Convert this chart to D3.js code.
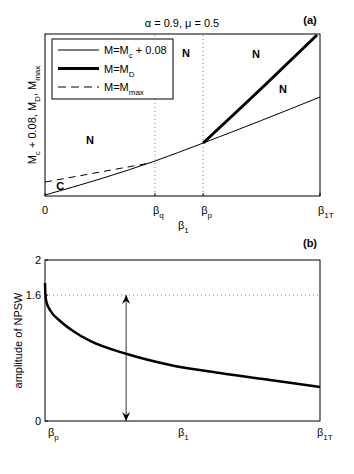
<!DOCTYPE html>
<html>
<head>
<meta charset="utf-8">
<script src="https://cdn.jsdelivr.net/npm/d3@7"></script>
<style>
  body { margin: 0; background: #fff; }
  text { font-family: "Liberation Sans", Arial, sans-serif; font-size: 11px; fill: #000; }
</style>
</head>
<body>
<div id="chart"></div>
<script>
// panel (a) -- beta_1 normalised so beta_1T = 1, M in arbitrary units
const betaQ = 0.4, betaP = 0.575, beta1T = 1;
const topTicks = [0, betaQ, betaP, beta1T];
const topTickLabels = [["0", ""], ["β", "q"], ["β", "p"], ["β", "1T"]];

const mcX = [0, 0.2, 0.4, 0.575, 0.782, 1];
const mcY = [0.006, 0.105, 0.216, 0.327, 0.463, 0.611];
const mdX = [0.575, 0.8, 0.989];
const mdY = [0.327, 0.685, 0.994];
const mmaxX = [0, 0.382];
const mmaxY = [0.086, 0.204];

const regionLabels = ["N", "N", "N", "N", "C"];
const regionX = [0.164, 0.513, 0.767, 0.865, 0.055];
const regionY = [0.346, 0.883, 0.877, 0.660, 0.062];

const legendLabels = [["M=M", "c", " + 0.08"], ["M=M", "D", ""], ["M=M", "max", ""]];

// panel (b) -- amplitude of NPSW, beta_1 from beta_p (0) to beta_1T (1)
const npswX = [0, 0.001, 0.003, 0.008, 0.018, 0.055, 0.102, 0.164, 0.298, 0.455, 0.636, 0.818, 1];
const npswY = [1.714, 1.6, 1.52, 1.45, 1.379, 1.242, 1.118, 0.994, 0.832, 0.696, 0.596, 0.509, 0.422];
const npswLevel = 1.565;
const arrowX = 0.295;
const bottomYTicks = [0, npswLevel, 2];
const bottomYTickLabels = ["0", "1.6", "2"];
const bottomXTicks = [0, 1];
const bottomXTickLabels = [["β", "p"], ["β", "1T"]];

const W = 354, H = 474;
const svg = d3.select("#chart").append("svg").attr("width", W).attr("height", H);

const defs = svg.append("defs");
defs.append("marker")
  .attr("id", "head")
  .attr("viewBox", "0 0 10 10")
  .attr("refX", 10).attr("refY", 5)
  .attr("markerWidth", 9).attr("markerHeight", 9)
  .attr("markerUnits", "userSpaceOnUse")
  .attr("orient", "auto-start-reverse")
  .append("path")
  .attr("d", "M0,0.5 L10,5 L0,9.5 L3.5,5 Z")
  .attr("fill", "#000");

// subscript text helper
const richText = (sel, parts) => {
  sel.append("tspan").text(parts[0]);
  if (parts[1]) sel.append("tspan").attr("dy", 4).style("font-size", "8px").text(parts[1]);
  if (parts[2]) sel.append("tspan").attr("dy", -4).text(parts[2]);
};

// ---------- panel (a) ----------
const xa = d3.scaleLinear().domain([0, 1]).range([45, 320]);
const ya = d3.scaleLinear().domain([0, 1]).range([196, 34]);
const ga = svg.append("g");

ga.selectAll("line.vdot")
  .data([betaQ, betaP])
  .enter().append("line")
  .attr("x1", d => xa(d)).attr("x2", d => xa(d))
  .attr("y1", ya(0)).attr("y2", ya(1))
  .attr("stroke", "#888").attr("stroke-width", 1)
  .attr("stroke-dasharray", "1,3");

const lineA = (xs, ys) =>
  d3.line().x(d => xa(d[0])).y(d => ya(d[1])).curve(d3.curveMonotoneX)(xs.map((x, i) => [x, ys[i]]));

ga.append("path").attr("d", lineA(mcX, mcY))
  .attr("fill", "none").attr("stroke", "#000").attr("stroke-width", 1);
ga.append("path").attr("d", lineA(mmaxX, mmaxY))
  .attr("fill", "none").attr("stroke", "#000").attr("stroke-width", 1)
  .attr("stroke-dasharray", "7,5");
ga.append("path").attr("d", lineA(mdX, mdY))
  .attr("fill", "none").attr("stroke", "#000").attr("stroke-width", 3);

ga.selectAll("text.region")
  .data(regionLabels)
  .enter().append("text")
  .attr("class", "region")
  .attr("x", (d, i) => xa(regionX[i]))
  .attr("y", (d, i) => ya(regionY[i]))
  .attr("text-anchor", "middle")
  .attr("dominant-baseline", "central")
  .style("font-weight", "bold")
  .text(d => d);

// box and ticks
ga.append("rect")
  .attr("x", xa(0)).attr("y", ya(1))
  .attr("width", xa(1) - xa(0)).attr("height", ya(0) - ya(1))
  .attr("fill", "none").attr("stroke", "#000").attr("stroke-width", 1);

ga.selectAll("line.tick")
  .data(topTicks)
  .enter().append("line")
  .attr("x1", d => xa(d)).attr("x2", d => xa(d))
  .attr("y1", ya(0)).attr("y2", ya(0) - 3)
  .attr("stroke", "#000");

ga.selectAll("text.xtick")
  .data(topTicks)
  .enter().append("text")
  .attr("x", d => xa(d))
  .attr("y", 214)
  .attr("text-anchor", (d, i) => i == 0 ? "middle" : "start")
  .attr("dx", (d, i) => i == 0 ? 0 : -2)
  .each(function (d, i) { richText(d3.select(this), topTickLabels[i]); });

richText(ga.append("text").attr("x", 178).attr("y", 229), ["β", "1", ""]);

ga.append("text")
  .attr("transform", "translate(36," + (ya(0.5)) + ") rotate(-90)")
  .attr("text-anchor", "middle")
  .call(t => {
    richText(t, ["M", "c", " + 0.08, M"]);
    t.append("tspan").attr("dy", 4).style("font-size", "8px").text("D");
    t.append("tspan").attr("dy", -4).text(", M");
    t.append("tspan").attr("dy", 4).style("font-size", "8px").text("max");
  });

ga.append("text").attr("x", 182).attr("y", 27).attr("text-anchor", "middle")
  .text("α = 0.9, μ = 0.5");
ga.append("text").attr("x", 310).attr("y", 24).attr("text-anchor", "middle")
  .style("font-weight", "bold").text("(a)");

// legend
const leg = ga.append("g");
leg.append("rect")
  .attr("x", 52).attr("y", 39).attr("width", 121).attr("height", 60)
  .attr("fill", "#fff").attr("stroke", "#000").attr("stroke-width", 1);
const legStyles = [[1, null], [3, null], [1, "8,5"]];
legendLabels.forEach((lab, i) => {
  const yy = 50 + i * 18.5;
  leg.append("line")
    .attr("x1", 58).attr("x2", 99).attr("y1", yy).attr("y2", yy)
    .attr("stroke", "#000").attr("stroke-width", legStyles[i][0])
    .attr("stroke-dasharray", legStyles[i][1]);
  richText(leg.append("text").attr("x", 104).attr("y", yy + 4), lab);
});

// ---------- panel (b) ----------
const xb = d3.scaleLinear().domain([0, 1]).range([45, 320]);
const yb = d3.scaleLinear().domain([0, 2]).range([421, 260]);
const gb = svg.append("g");

gb.append("line")
  .attr("x1", xb(0)).attr("x2", xb(1))
  .attr("y1", yb(npswLevel)).attr("y2", yb(npswLevel))
  .attr("stroke", "#888").attr("stroke-dasharray", "1,3");

gb.append("line")
  .attr("x1", xb(arrowX)).attr("x2", xb(arrowX))
  .attr("y1", yb(0)).attr("y2", yb(npswLevel))
  .attr("stroke", "#333").attr("stroke-width", 1)
  .attr("marker-start", "url(#head)")
  .attr("marker-end", "url(#head)");

gb.append("path")
  .attr("d", d3.line().x(d => xb(d[0])).y(d => yb(d[1])).curve(d3.curveMonotoneX)(npswX.map((x, i) => [x, npswY[i]])))
  .attr("fill", "none").attr("stroke", "#000").attr("stroke-width", 2.5);

gb.append("rect")
  .attr("x", xb(0)).attr("y", yb(2))
  .attr("width", xb(1) - xb(0)).attr("height", yb(0) - yb(2))
  .attr("fill", "none").attr("stroke", "#000").attr("stroke-width", 1);

gb.selectAll("line.ytick")
  .data(bottomYTicks)
  .enter().append("line")
  .attr("x1", xb(0)).attr("x2", xb(0) + 3)
  .attr("y1", d => yb(d)).attr("y2", d => yb(d))
  .attr("stroke", "#000");

gb.selectAll("text.ytick")
  .data(bottomYTicks)
  .enter().append("text")
  .attr("x", 41)
  .attr("y", d => yb(d))
  .attr("text-anchor", "end")
  .attr("dominant-baseline", "central")
  .text((d, i) => bottomYTickLabels[i]);

gb.selectAll("text.xtick")
  .data(bottomXTicks)
  .enter().append("text")
  .attr("x", d => xb(d))
  .attr("y", 436)
  .attr("text-anchor", "start")
  .attr("dx", (d, i) => i == 0 ? 3 : -3)
  .each(function (d, i) { richText(d3.select(this), bottomXTickLabels[i]); });

richText(gb.append("text").attr("x", 178).attr("y", 436), ["β", "1", ""]);

gb.append("text")
  .attr("transform", "translate(22," + yb(1) + ") rotate(-90)")
  .attr("text-anchor", "middle")
  .text("amplitude of NPSW");

gb.append("text").attr("x", 310).attr("y", 247).attr("text-anchor", "middle")
  .style("font-weight", "bold").text("(b)");
</script>
</body>
</html>
